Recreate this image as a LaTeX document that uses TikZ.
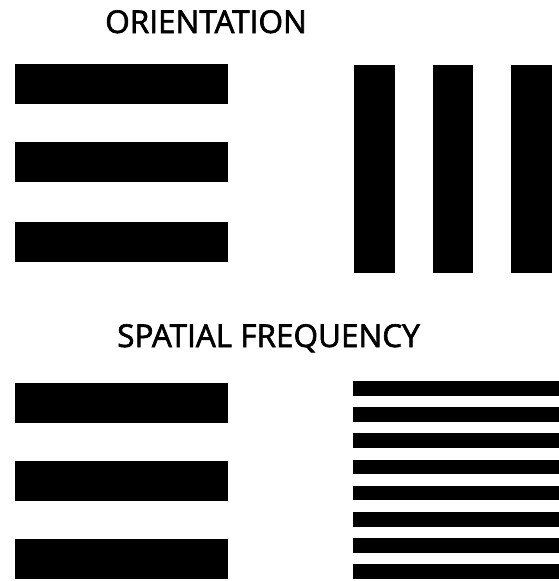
\documentclass[tikz,border=0pt]{standalone}
\usepackage{fontspec}
\newfontfamily\titlefont{Open Sans}[FakeBold=2]

\begin{document}
\begin{tikzpicture}[x=1pt,y=-1pt,
	title/.style={font=\titlefont\fontsize{31.5}{33}\selectfont,anchor=base,inner sep=0pt},
	bar/.style={fill=black}]
	\useasboundingbox (0,0) rectangle (559,581);
	% orientation: same grating, turned by 90 degrees
	\node[title] (orient) at (206,33) {ORIENTATION};
	\foreach \y in {64,142,222}
		\fill[bar] (15,\y) rectangle (228,\y+40);
	\foreach \x in {354,432.5,511}
		\fill[bar] (\x,65) rectangle (\x+40.5,273);
	% spatial frequency: wide bars against narrow ones
	\node[title] (freq) at (268.5,347) {SPATIAL FREQUENCY};
	\foreach \y in {383,461,539}
		\fill[bar] (15,\y) rectangle (228,\y+40);
	\foreach \i in {0,...,7}
		\fill[bar] (353,381+26.2*\i) rectangle (559,395.5+26.2*\i);
\end{tikzpicture}
\end{document}
